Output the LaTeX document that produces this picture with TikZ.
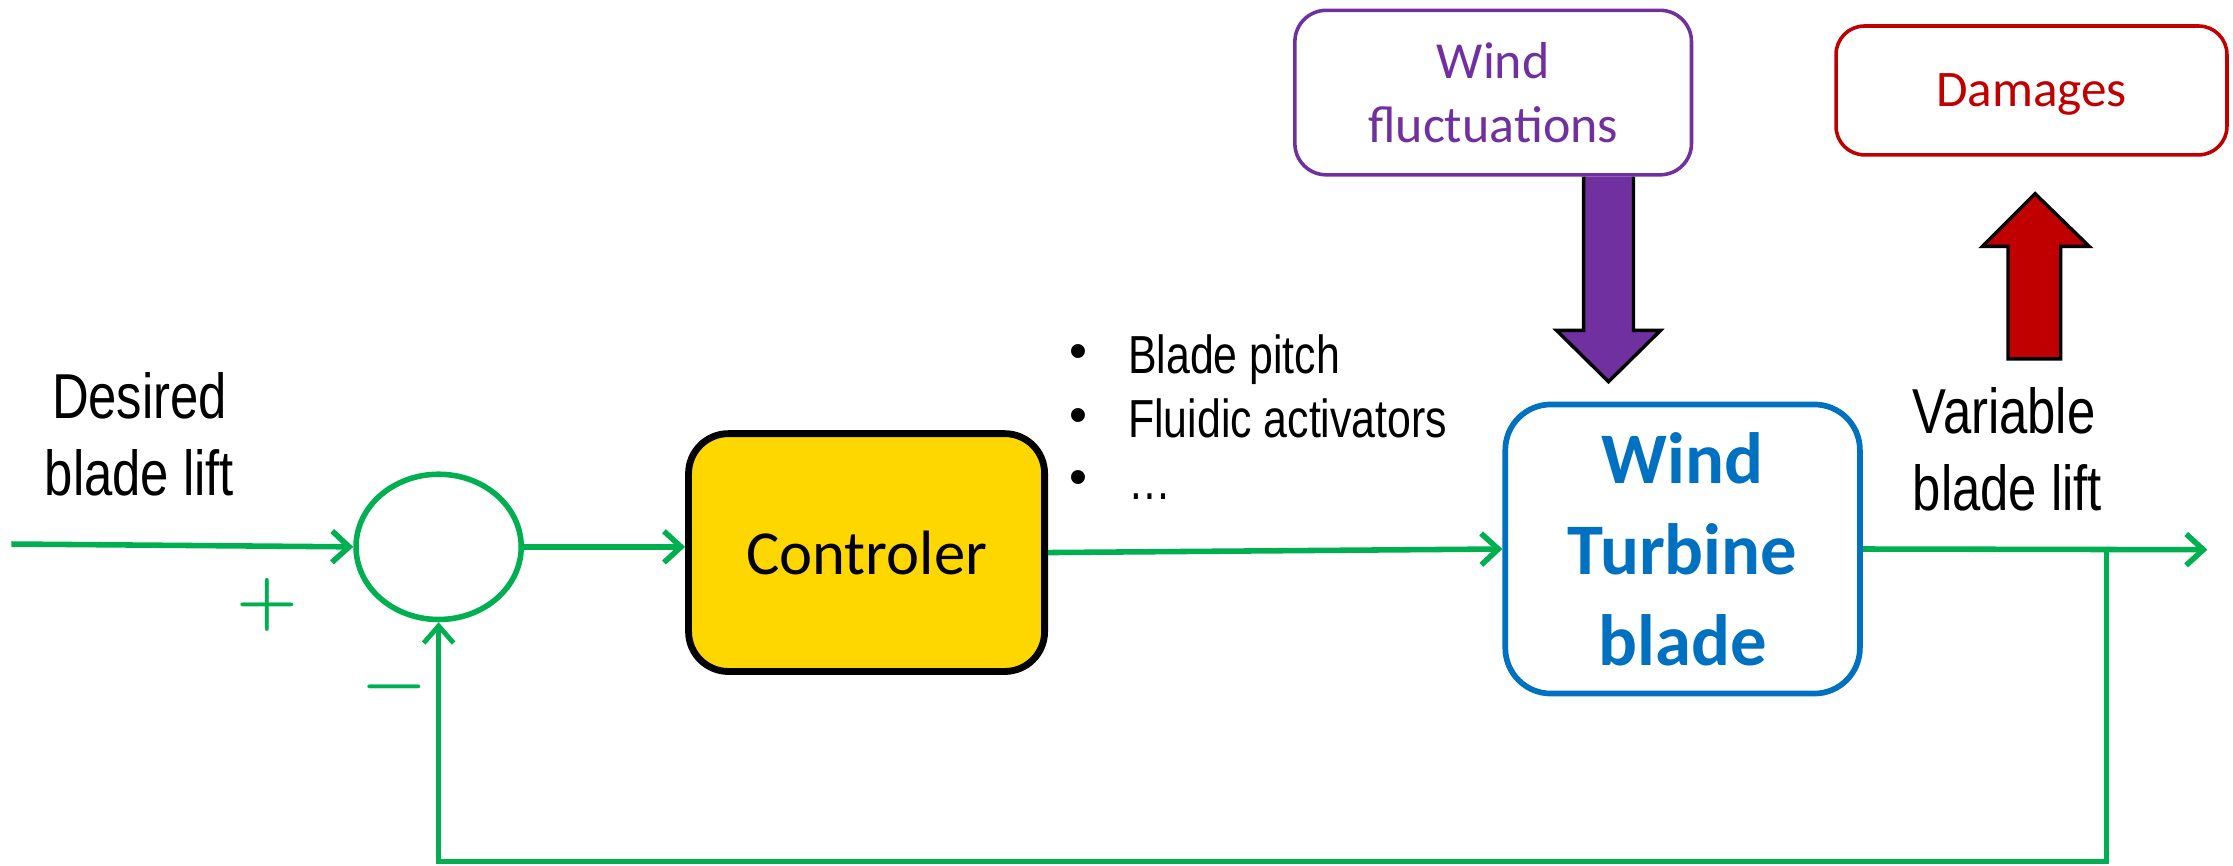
\documentclass[tikz,border=0pt]{standalone}
\usepackage{fontspec}
\usetikzlibrary{shapes.geometric,arrows.meta,calc}
\newfontfamily\arialn[FakeStretch=0.8]{Liberation Sans}
\newfontfamily\arialf{Liberation Sans}
\newfontfamily\calib{Carlito}
\definecolor{grn}{HTML}{00B050}
\definecolor{gold}{HTML}{FFD700}
\definecolor{blu}{HTML}{0070C0}
\definecolor{purp}{HTML}{7030A0}
\definecolor{dred}{HTML}{C00000}
\tikzset{
  flow/.style={draw=grn, line width=3.9pt, -{Straight Barb[length=12pt,width=22pt]}},
  fbflow/.style={draw=grn, line width=3.4pt, -{Straight Barb[length=12pt,width=21pt]}},
  ctrlbox/.style={draw=black, line width=4.8pt, fill=gold, rounded corners=28pt, minimum width=250pt, minimum height=167pt, inner sep=0pt, font=\calib\fontsize{44}{52}\selectfont},
  plantbox/.style={draw=blu, line width=4pt, rounded corners=32pt, minimum width=249pt, minimum height=203pt, inner sep=0pt, align=center, text=blu, font=\calib\bfseries\fontsize{51}{64}\selectfont},
  distbox/.style={draw=purp, line width=2.5pt, rounded corners=22pt, minimum width=278.5pt, minimum height=115.5pt, inner sep=0pt, align=center, text=purp, font=\calib\fontsize{36.5}{45}\selectfont},
  dmgbox/.style={draw=dred, line width=2.5pt, rounded corners=20pt, minimum width=274.5pt, minimum height=90.5pt, inner sep=0pt, text=dred, text depth=0pt, font=\calib\fontsize{36}{44}\selectfont},
  sumnode/.style={draw=grn, line width=3.9pt, ellipse, minimum width=116pt, minimum height=102pt, inner sep=0pt},
  biglabel/.style={inner sep=0pt, font=\arialn\fontsize{44.6}{54.5}\selectfont},
  itemtext/.style={inner sep=0pt, anchor=base west, font=\arialn\fontsize{37.6}{44.5}\selectfont},
  itemdot/.style={inner sep=0pt, anchor=base, font=\arialf\fontsize{36}{36}\selectfont},
  signlbl/.style={inner sep=0pt, text=grn, font=\bfseries\fontsize{49.5}{50}\selectfont},
  blockarrow/.style={draw=black, line width=2.4pt, line join=miter}
}
\begin{document}
\begin{tikzpicture}[x=1pt,y=-1pt]
\useasboundingbox (0,0) rectangle (1568,608);

% block arrows
\filldraw[blockarrow, fill=purp] (1112,124) -- (1112,232) -- (1093,232) -- (1129.5,268) -- (1166,232) -- (1147,232) -- (1147,124);
\filldraw[blockarrow, fill=dred] (1410,252) -- (1410,173) -- (1392,173) -- (1429,136) -- (1467,173) -- (1447,173) -- (1447,252) -- cycle;

% nodes
\node[sumnode] (sum) at (308,384) {};
\node[ctrlbox] (ctrl) at (608.5,388) {Controler};
\node[plantbox] (wtb) at (1181.5,385.5) {Wind\\Turbine\\blade};
\node[distbox] (wf) at (1048.5,65) {Wind\\fluctuations};
\node[dmgbox] (dmg) at (1426.5,63.5) {Damages};

\node[biglabel, align=center] (des) at (98,305) {Desired\\blade lift};
\node[biglabel, align=left, anchor=west] (var) at (1343,315.5) {Variable\\blade lift};

\node[itemdot] (d1) at (757,258.5) {•};
\node[itemdot] (d2) at (757,303.5) {•};
\node[itemdot] (d3) at (757,347.5) {•};
\node[itemtext] (t1) at (792,262) {Blade pitch};
\node[itemtext] (t2) at (792,307) {Fluidic activators};
\node[itemtext] (t3) at (792,351) {…};

\node[signlbl] (plus) at (188,425) {+};
\node[signlbl] (minus) at (277,488) {−};

% connectors
\coordinate (in) at (8,382);
\coordinate (out) at (1550,386);
\coordinate (fb) at (1479,386);
\coordinate (fbc) at (1479,605);
\draw[flow] (in) -- (sum.west);
\draw[flow] (sum.east) -- (sum.east -| ctrl.west);
\draw[flow] (ctrl.east) -- (wtb.west);
\draw[flow] (wtb.east) -- (out);
\draw[fbflow] (fb) -- (fbc) -| (sum.south);
\end{tikzpicture}
\end{document}
